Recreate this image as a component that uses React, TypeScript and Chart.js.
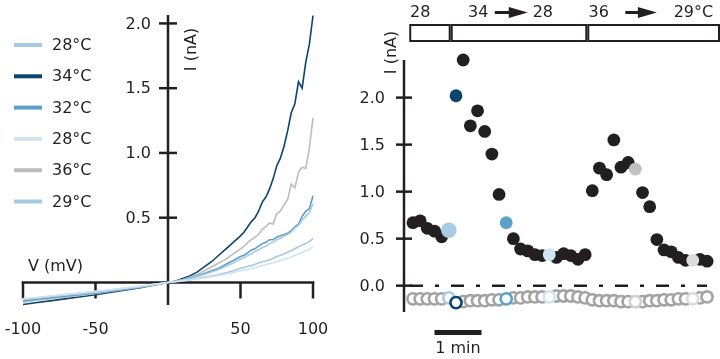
import React, { useEffect, useRef } from 'react';
import { Chart, registerables } from 'chart.js';

Chart.register(...registerables);

// ---------------- Left panel: I–V curves ----------------
const VOLTAGE = [-100, -90, -80, -70, -60, -50, -40, -30, -20, -10, 0, 5, 10, 15, 20, 25, 30, 35, 40, 45, 50, 52.5, 55, 57.5, 60, 62.5, 65, 67.5, 70, 72.5, 75, 77.5, 80, 82.5, 85, 87.5, 90, 92.5, 95, 97.5, 100];

const I_28A = [-0.13, -0.118, -0.106, -0.094, -0.082, -0.07, -0.058, -0.045, -0.031, -0.016, 0, 0.007, 0.014, 0.022, 0.03, 0.04, 0.05, 0.062, 0.075, 0.09, 0.11, 0.115, 0.125, 0.13, 0.14, 0.15, 0.16, 0.165, 0.175, 0.185, 0.2, 0.21, 0.22, 0.235, 0.245, 0.26, 0.275, 0.29, 0.3, 0.315, 0.34];
const I_34 = [-0.17, -0.155, -0.14, -0.125, -0.11, -0.095, -0.078, -0.06, -0.042, -0.022, 0, 0.01, 0.03, 0.05, 0.08, 0.12, 0.16, 0.21, 0.26, 0.31, 0.36, 0.39, 0.43, 0.47, 0.5, 0.55, 0.62, 0.66, 0.72, 0.8, 0.9, 0.96, 1.05, 1.17, 1.31, 1.38, 1.55, 1.5, 1.7, 1.84, 2.06];
const I_32 = [-0.14, -0.128, -0.116, -0.104, -0.092, -0.08, -0.066, -0.051, -0.035, -0.018, 0, 0.01, 0.02, 0.035, 0.05, 0.07, 0.09, 0.11, 0.14, 0.17, 0.2, 0.21, 0.23, 0.25, 0.26, 0.28, 0.3, 0.31, 0.33, 0.33, 0.35, 0.36, 0.37, 0.38, 0.4, 0.43, 0.45, 0.51, 0.55, 0.57, 0.67];
const I_28B = [-0.125, -0.114, -0.102, -0.09, -0.079, -0.068, -0.056, -0.043, -0.03, -0.015, 0, 0.006, 0.012, 0.019, 0.026, 0.034, 0.043, 0.053, 0.064, 0.076, 0.09, 0.095, 0.1, 0.108, 0.115, 0.122, 0.13, 0.137, 0.145, 0.152, 0.16, 0.168, 0.178, 0.187, 0.197, 0.21, 0.22, 0.232, 0.245, 0.255, 0.28];
const I_36 = [-0.15, -0.138, -0.125, -0.112, -0.099, -0.085, -0.07, -0.054, -0.038, -0.02, 0, 0.01, 0.02, 0.04, 0.06, 0.09, 0.12, 0.15, 0.18, 0.22, 0.26, 0.28, 0.31, 0.33, 0.35, 0.37, 0.41, 0.43, 0.46, 0.45, 0.53, 0.55, 0.6, 0.64, 0.76, 0.73, 0.85, 0.89, 0.88, 1.04, 1.27];
const I_29 = [-0.13, -0.12, -0.108, -0.097, -0.086, -0.075, -0.062, -0.048, -0.033, -0.017, 0, 0.008, 0.018, 0.03, 0.045, 0.062, 0.08, 0.1, 0.125, 0.15, 0.18, 0.19, 0.21, 0.22, 0.24, 0.25, 0.27, 0.28, 0.3, 0.31, 0.33, 0.34, 0.36, 0.37, 0.39, 0.42, 0.44, 0.48, 0.51, 0.54, 0.61];

const SERIES_LABELS = ['28°C', '34°C', '32°C', '28°C', '36°C', '29°C'];
const SERIES_VALUES = [I_28A, I_34, I_32, I_28B, I_36, I_29];

const IV_X_TICKS = [-100, -50, 50, 100];
const IV_Y_TICKS = [0.5, 1.0, 1.5, 2.0];

// ---------------- Right panel: current vs time ----------------
const TIME_IDX = [0, 1, 2, 3, 4, 5, 6, 7, 8, 9, 10, 11, 12, 13, 14, 15, 16, 17, 18, 19, 20, 21, 22, 23, 24, 25, 26, 27, 28, 29, 30, 31, 32, 33, 34, 35, 36, 37, 38, 39, 40, 41];
const I_OUT = [0.67, 0.69, 0.61, 0.58, 0.52, 0.59, 2.02, 2.4, 1.7, 1.86, 1.64, 1.4, 0.97, 0.67, 0.5, 0.39, 0.37, 0.33, 0.32, 0.33, 0.3, 0.34, 0.32, 0.28, 0.33, 1.01, 1.25, 1.18, 1.55, 1.26, 1.31, 1.24, 0.99, 0.84, 0.49, 0.38, 0.36, 0.3, 0.27, 0.27, 0.28, 0.26];
const I_IN = [-0.14, -0.14, -0.14, -0.14, -0.14, -0.13, -0.18, -0.17, -0.16, -0.16, -0.16, -0.15, -0.15, -0.14, -0.13, -0.13, -0.12, -0.12, -0.12, -0.12, -0.11, -0.11, -0.11, -0.12, -0.13, -0.15, -0.16, -0.16, -0.16, -0.17, -0.17, -0.17, -0.17, -0.16, -0.16, -0.15, -0.15, -0.14, -0.14, -0.14, -0.13, -0.12];
const HIGHLIGHT_IDX = [5, 6, 13, 19, 31, 39];
const T_Y_TICKS = [0.0, 0.5, 1.0, 1.5, 2.0];
const SEGMENT_EDGES = [-0.52, 5.26, 24.3, 42.8];
const SEGMENT_TEXT = [
  { t: 1.0, text: '28' },
  { t: 9.1, text: '34' },
  { t: 18.1, text: '28' },
  { t: 25.9, text: '36' },
  { t: 39.1, text: '29°C' },
];
const ARROWS = [[11.4, 16.0], [29.6, 34.0]];
const SCALE_BAR = [3.0, 9.55];
const SCALE_BAR_LABEL = '1 min';

// ---------------- Styles ----------------
const INK = '#231f20';
const FONT = '16px "DejaVu Sans", sans-serif';
const SERIES_COLORS = ['#a7c9e1', '#0c456b', '#5a9fc6', '#d2e4f2', '#bdbdbf', '#a9cae2'];
const SERIES_DRAW_ORDER = [2, 6, 4, 1, 5, 3];
const HIGHLIGHT_FILL = ['#a8cbe3', '#0c456b', '#5aa2c8', '#d3e5f2', '#bfc0c2', '#dcdcdc'];
const HIGHLIGHT_RING = ['#a8cbe3', '#0c456b', '#5aa2c8', '#d3e5f2', '#d0d0d0', '#dcdcdc'];
const HIGHLIGHT_RADIUS = [7.8, 6.4, 6.4, 6.4, 6.4, 6.4];

const ivPlugin = {
  id: 'ivAxes',
  beforeDatasetsDraw(chart: any) {
    const { ctx, scales } = chart;
    const x = scales.x, y = scales.y;
    const x0 = x.getPixelForValue(0);
    const y0 = y.getPixelForValue(0);
    ctx.save();
    ctx.strokeStyle = INK;
    ctx.lineWidth = 2.5;
    ctx.beginPath();
    ctx.moveTo(x.getPixelForValue(-100) - 1.25, y0);
    ctx.lineTo(x.getPixelForValue(100) + 1.25, y0);
    ctx.stroke();
    IV_X_TICKS.forEach((v) => {
      const px = x.getPixelForValue(v);
      ctx.beginPath();
      ctx.moveTo(px, y0);
      ctx.lineTo(px, y0 + 16);
      ctx.stroke();
    });
    ctx.beginPath();
    ctx.moveTo(x0, y.getPixelForValue(y.min));
    ctx.lineTo(x0, y.getPixelForValue(y.max));
    ctx.stroke();
    IV_Y_TICKS.forEach((v) => {
      const py = y.getPixelForValue(v);
      ctx.beginPath();
      ctx.moveTo(x0 - 9, py);
      ctx.lineTo(x0 + 9, py);
      ctx.stroke();
    });
    ctx.fillStyle = INK;
    ctx.font = FONT;
    ctx.textAlign = 'right';
    ctx.textBaseline = 'middle';
    IV_Y_TICKS.forEach((v) => {
      ctx.fillText(v.toFixed(1), x0 - 17, y.getPixelForValue(v) + 1);
    });
    ctx.textAlign = 'center';
    IV_X_TICKS.forEach((v) => {
      ctx.fillText(String(v), x.getPixelForValue(v), y0 + 47);
    });
    ctx.textAlign = 'left';
    ctx.fillText('V (mV)', x.getPixelForValue(-100) + 5, y0 - 16);
    ctx.save();
    ctx.translate(x0 + 24, y0 - 233);
    ctx.rotate(-Math.PI / 2);
    ctx.textAlign = 'center';
    ctx.fillText('I (nA)', 0, 0);
    ctx.restore();
    ctx.restore();
  },
  afterDraw(chart: any) {
    const { ctx } = chart;
    ctx.save();
    ctx.font = FONT;
    ctx.textAlign = 'left';
    ctx.textBaseline = 'middle';
    chart.data.datasets.forEach((ds: any, i: number) => {
      const ry = 45 + i * 31.3;
      ctx.strokeStyle = ds.borderColor;
      ctx.lineWidth = 4;
      ctx.beginPath();
      ctx.moveTo(14, ry);
      ctx.lineTo(42, ry);
      ctx.stroke();
      ctx.fillStyle = INK;
      ctx.fillText(ds.label, 52, ry + 1);
    });
    ctx.restore();
  },
};

const timePlugin = {
  id: 'timeAxes',
  beforeDatasetsDraw(chart: any) {
    const { ctx, scales } = chart;
    const x = scales.x, y = scales.y;
    const xa = x.getPixelForValue(x.min);
    ctx.save();
    ctx.strokeStyle = INK;
    ctx.lineWidth = 2.5;
    ctx.beginPath();
    ctx.moveTo(xa, y.getPixelForValue(y.min));
    ctx.lineTo(xa, y.getPixelForValue(y.max));
    ctx.stroke();
    T_Y_TICKS.forEach((v) => {
      const py = y.getPixelForValue(v);
      ctx.beginPath();
      ctx.moveTo(xa - 8, py);
      ctx.lineTo(xa + 8, py);
      ctx.stroke();
    });
    ctx.fillStyle = INK;
    ctx.font = FONT;
    ctx.textAlign = 'right';
    ctx.textBaseline = 'middle';
    T_Y_TICKS.forEach((v) => {
      ctx.fillText(v.toFixed(1), xa - 19, y.getPixelForValue(v) + 1);
    });
    ctx.save();
    ctx.translate(xa - 12, y.getPixelForValue(2.48));
    ctx.rotate(-Math.PI / 2);
    ctx.textAlign = 'center';
    ctx.fillText('I (nA)', 0, 0);
    ctx.restore();
    // zero dash-dot line
    ctx.setLineDash([13, 12, 4, 12]);
    ctx.beginPath();
    const y0 = y.getPixelForValue(0);
    ctx.moveTo(xa + 6, y0);
    ctx.lineTo(x.getPixelForValue(41), y0);
    ctx.stroke();
    ctx.setLineDash([]);
    ctx.restore();
  },
  afterDraw(chart: any) {
    const { ctx, scales, chartArea } = chart;
    const x = scales.x;
    ctx.save();
    ctx.strokeStyle = INK;
    ctx.fillStyle = INK;
    ctx.lineWidth = 2;
    const boxTop = chartArea.top - 35;
    const boxH = 16;
    for (let s = 0; s < SEGMENT_EDGES.length - 1; s++) {
      const a = x.getPixelForValue(SEGMENT_EDGES[s]) + 1;
      const b = x.getPixelForValue(SEGMENT_EDGES[s + 1]) - 1;
      ctx.strokeRect(a, boxTop, b - a, boxH);
    }
    ctx.font = FONT;
    ctx.textAlign = 'center';
    ctx.textBaseline = 'middle';
    const ty = chartArea.top - 47;
    SEGMENT_TEXT.forEach((o) => ctx.fillText(o.text, x.getPixelForValue(o.t), ty));
    ARROWS.forEach(([a, b]) => {
      const pa = x.getPixelForValue(a), pb = x.getPixelForValue(b);
      const ay = ty - 0.5;
      ctx.lineWidth = 3;
      ctx.beginPath();
      ctx.moveTo(pa, ay);
      ctx.lineTo(pb - 14, ay);
      ctx.stroke();
      ctx.beginPath();
      ctx.moveTo(pb - 19, ay - 5.5);
      ctx.lineTo(pb, ay);
      ctx.lineTo(pb - 19, ay + 5.5);
      ctx.closePath();
      ctx.fill();
    });
    // scale bar
    const sy = chartArea.bottom + 20.5;
    const s0 = x.getPixelForValue(SCALE_BAR[0]);
    const s1 = x.getPixelForValue(SCALE_BAR[1]);
    ctx.fillRect(s0, sy - 2.5, s1 - s0, 5);
    ctx.fillText(SCALE_BAR_LABEL, (s0 + s1) / 2, sy + 16);
    ctx.restore();
  },
};

export default function App() {
  const leftRef = useRef<HTMLCanvasElement>(null);
  const rightRef = useRef<HTMLCanvasElement>(null);

  useEffect(() => {
    const ivDatasets = SERIES_VALUES.map((vals, s) => ({
      label: SERIES_LABELS[s],
      data: VOLTAGE.map((v, i) => ({ x: v, y: vals[i] })),
      showLine: true,
      borderColor: SERIES_COLORS[s],
      backgroundColor: SERIES_COLORS[s],
      borderWidth: 1.6,
      pointRadius: 0,
      tension: 0,
      order: SERIES_DRAW_ORDER[s],
      clip: false,
    }));
    const left = new Chart(leftRef.current!, {
      type: 'scatter',
      data: { datasets: ivDatasets as any },
      options: {
        responsive: false,
        animation: false,
        events: [],
        layout: { autoPadding: false, padding: { left: 23, right: 27, top: 15, bottom: 54 } },
        scales: {
          x: { type: 'linear', min: -100, max: 100, display: false },
          y: { type: 'linear', min: -0.174, max: 2.065, display: false },
        },
        plugins: { legend: { display: false }, tooltip: { enabled: false } },
      },
      plugins: [ivPlugin],
    });

    const isHi = (i: number) => HIGHLIGHT_IDX.includes(i);
    const right = new Chart(rightRef.current!, {
      type: 'scatter',
      data: {
        datasets: [
          {
            label: 'inward',
            data: TIME_IDX.filter((_, i) => !isHi(i)).map((t) => ({ x: t, y: I_IN[t] })),
            pointRadius: 5.6,
            pointBorderWidth: 2.6,
            pointBorderColor: '#a3a3a3',
            pointBackgroundColor: '#ffffff',
            clip: false,
            order: 4,
          },
          {
            label: 'inward highlighted',
            data: HIGHLIGHT_IDX.map((i) => ({ x: TIME_IDX[i], y: I_IN[i] })),
            pointRadius: 5.6,
            pointBorderWidth: 2.6,
            pointBorderColor: HIGHLIGHT_RING,
            pointBackgroundColor: '#ffffff',
            clip: false,
            order: 3,
          },
          {
            label: 'outward',
            data: TIME_IDX.filter((_, i) => !isHi(i)).map((t) => ({ x: t, y: I_OUT[t] })),
            pointRadius: 6.4,
            pointBorderWidth: 0,
            pointBackgroundColor: INK,
            pointBorderColor: INK,
            clip: false,
            order: 2,
          },
          {
            label: 'outward highlighted',
            data: HIGHLIGHT_IDX.map((i) => ({ x: TIME_IDX[i], y: I_OUT[i] })),
            pointRadius: HIGHLIGHT_RADIUS,
            pointBorderWidth: 0,
            pointBackgroundColor: HIGHLIGHT_FILL,
            pointBorderColor: HIGHLIGHT_FILL,
            clip: false,
            order: 1,
          },
        ] as any,
      },
      options: {
        responsive: false,
        animation: false,
        events: [],
        layout: { autoPadding: false, padding: { left: 64, right: 0, top: 60, bottom: 47 } },
        scales: {
          x: { type: 'linear', min: -1.25, max: 42.8, display: false },
          y: { type: 'linear', min: -0.28, max: 2.4, display: false },
        },
        plugins: { legend: { display: false }, tooltip: { enabled: false } },
      },
      plugins: [timePlugin],
    });

    return () => {
      left.destroy();
      right.destroy();
    };
  }, []);

  return (
    <div style={{ position: 'fixed', left: 0, top: 0, width: 720, height: 359, background: '#ffffff' }}>
      <canvas ref={leftRef} width={340} height={359} style={{ position: 'absolute', left: 0, top: 0, width: 340, height: 359 }} />
      <canvas ref={rightRef} width={380} height={359} style={{ position: 'absolute', left: 340, top: 0, width: 380, height: 359 }} />
    </div>
  );
}
